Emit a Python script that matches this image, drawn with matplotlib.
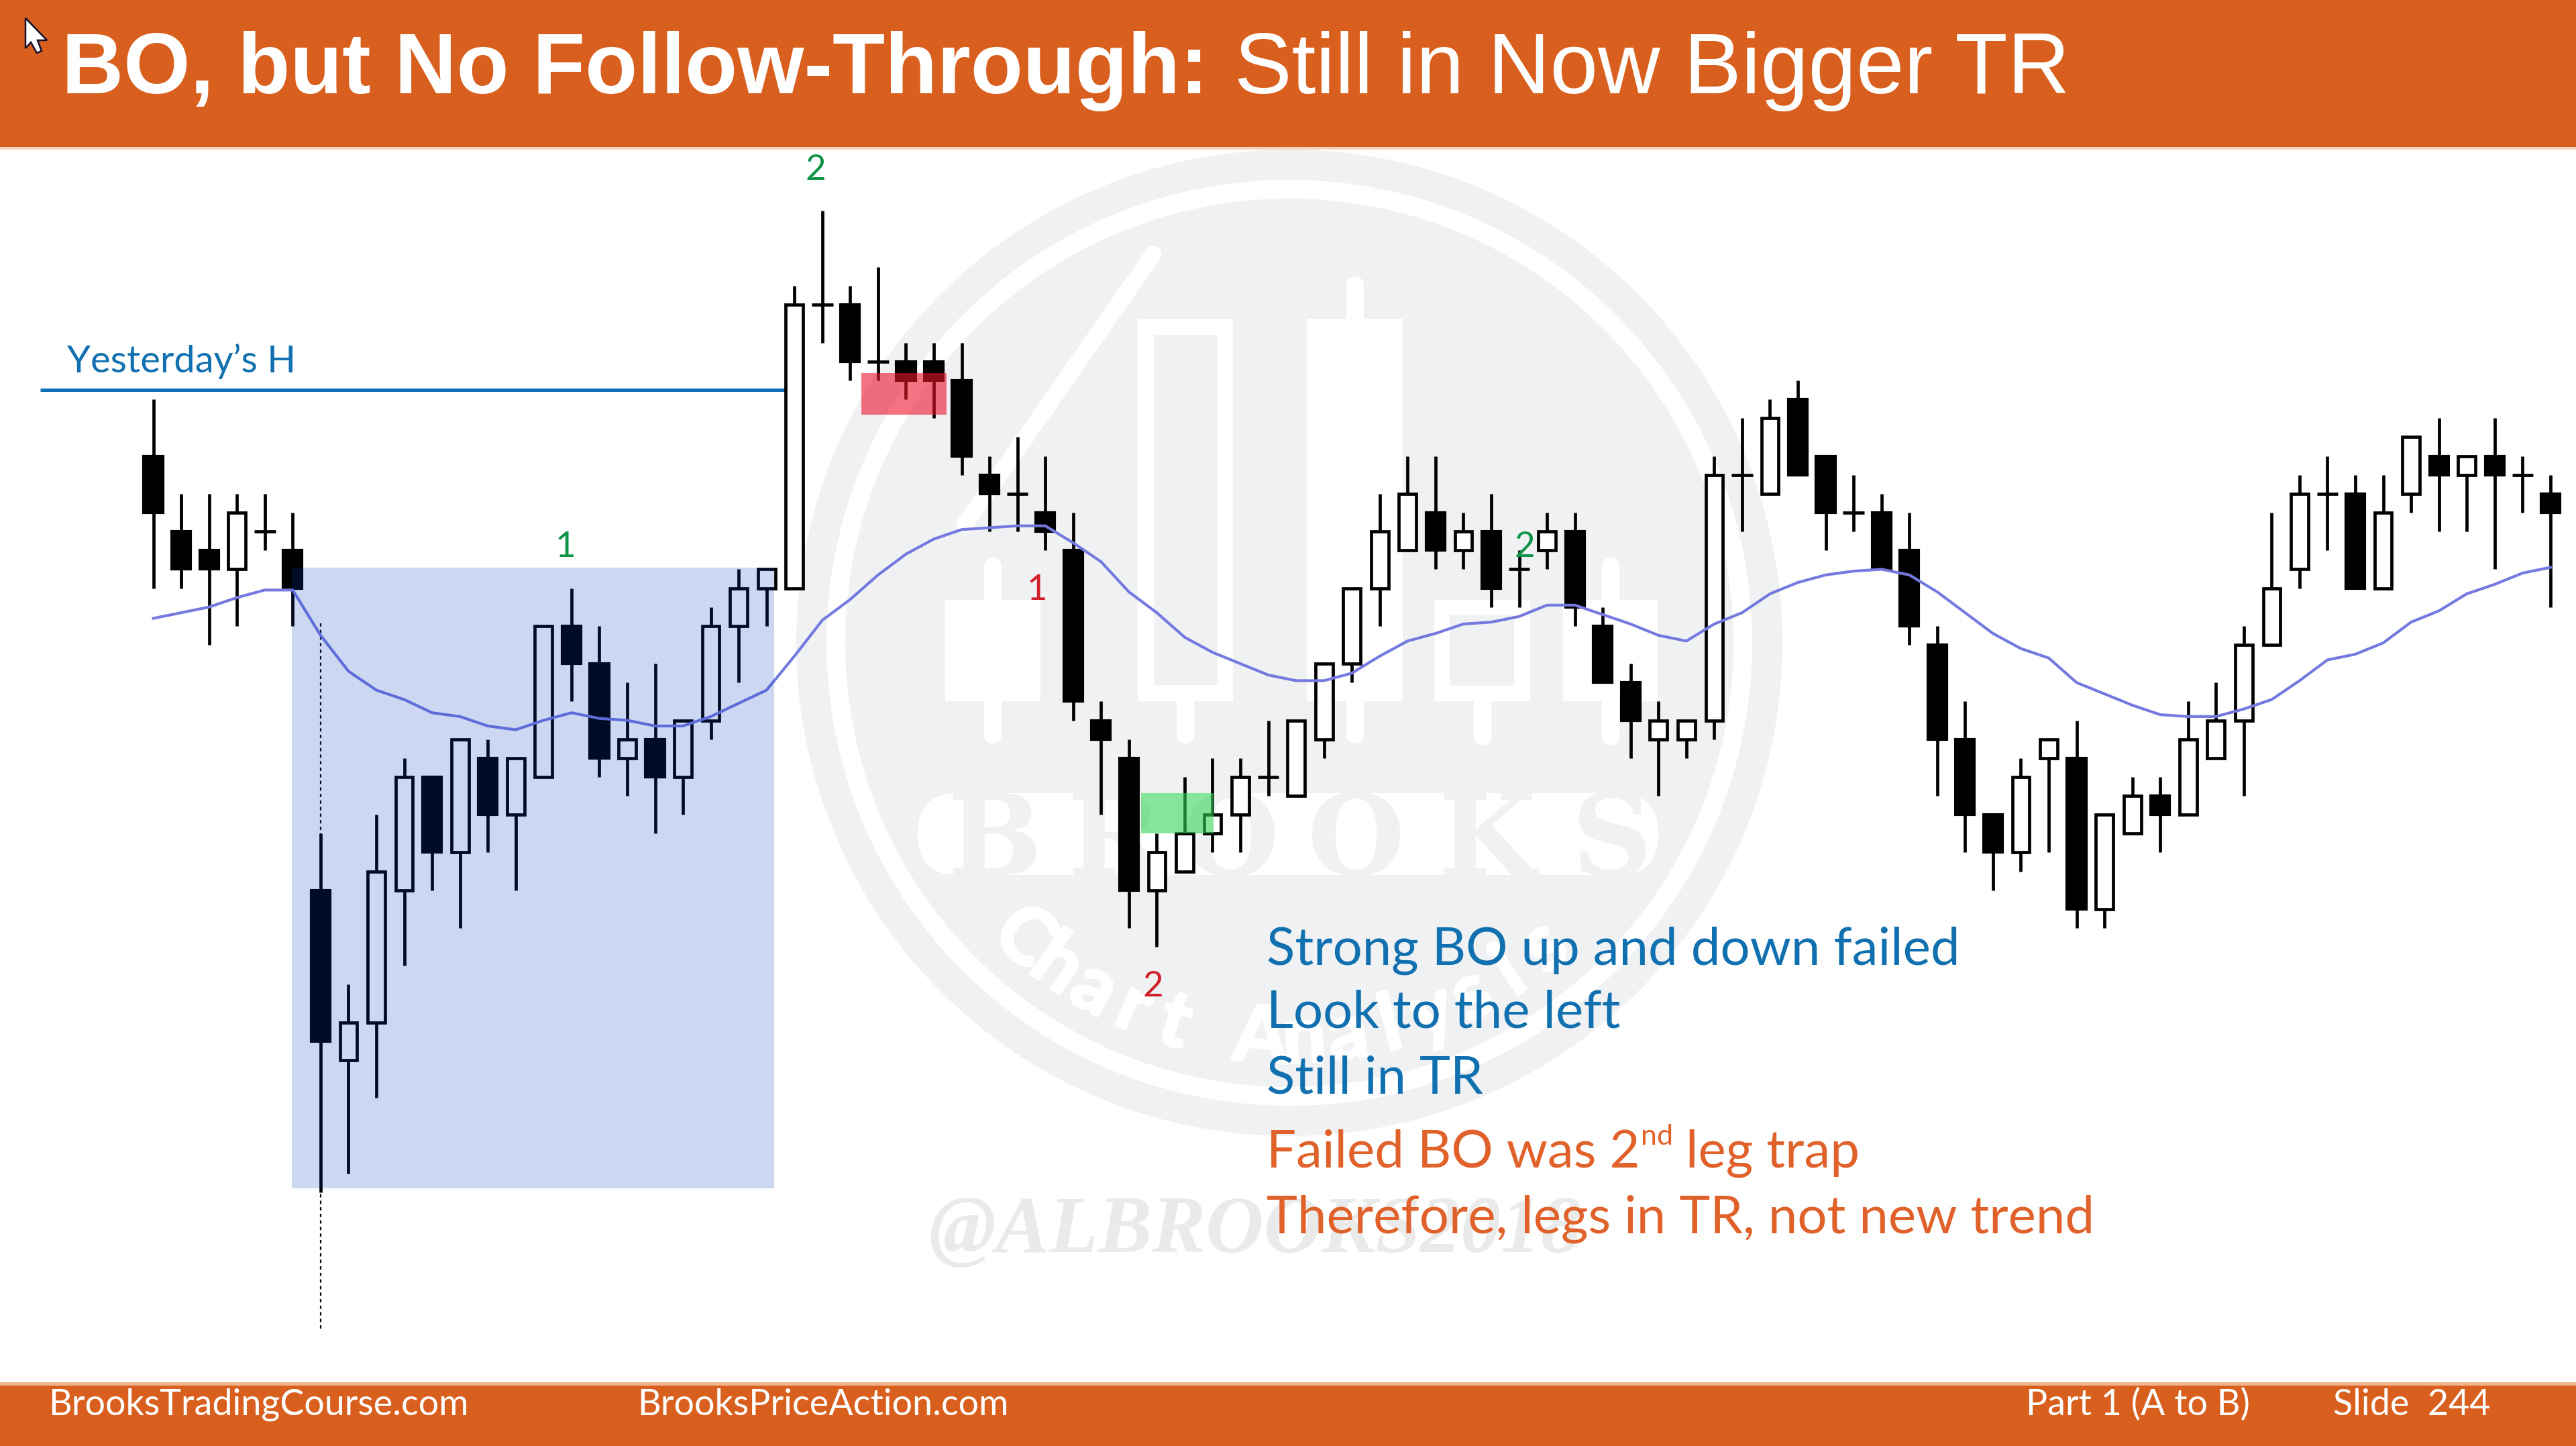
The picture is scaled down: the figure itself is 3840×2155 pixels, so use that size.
import numpy as np
import matplotlib
matplotlib.use("Agg")
from matplotlib import pyplot as plt
from matplotlib import patheffects as pe
from matplotlib.patches import Rectangle, Circle, Polygon, FancyBboxPatch

# OHLC, in ticks above the low of the day
opens = [39, 35, 34, 33, 35, 34, 16, 7, 9, 16, 22, 18, 23, 20, 22, 30, 28, 23, 24, 22, 25, 30, 32,
         32, 47, 47, 44, 44, 44, 43, 38, 37, 36, 34, 25, 23, 16, 17, 19, 20, 22, 21, 24, 28, 32,
         34, 36, 34, 35, 33, 34, 35, 30, 27, 24, 24, 25, 38, 37, 42, 39, 36, 36, 34, 29, 24, 20,
         18, 23, 23, 15, 19, 21, 20, 23, 25, 29, 33, 37, 37, 32, 37, 39, 38, 39, 38, 37]
highs = [42, 37, 37, 37, 37, 36, 19, 11, 20, 23, 22, 24, 24, 23, 30, 32, 30, 27, 28, 25, 31, 33, 33,
         48, 52, 48, 49, 45, 45, 45, 39, 40, 39, 36, 26, 24, 19, 22, 23, 23, 25, 25, 28, 32, 37,
         39, 39, 36, 37, 34, 36, 36, 31, 28, 26, 25, 39, 41, 42, 43, 39, 38, 37, 36, 30, 26, 20,
         23, 24, 25, 20, 22, 22, 26, 27, 30, 36, 38, 39, 38, 38, 40, 41, 39, 41, 39, 38]
lows = [32, 32, 29, 30, 34, 30, 0, 1, 5, 12, 16, 14, 18, 16, 22, 26, 22, 21, 19, 20, 24, 27, 30,
        32, 45, 43, 43, 42, 41, 38, 35, 35, 34, 25, 20, 14, 13, 17, 18, 18, 21, 21, 23, 27, 30,
        34, 33, 33, 31, 31, 33, 30, 27, 23, 21, 23, 24, 35, 37, 38, 34, 35, 33, 29, 21, 18, 16,
        17, 18, 14, 14, 19, 18, 20, 23, 21, 29, 32, 34, 32, 32, 36, 35, 35, 33, 36, 31]
closes = [36, 33, 33, 36, 35, 32, 8, 9, 17, 22, 18, 24, 20, 23, 30, 28, 23, 24, 22, 25, 30, 32, 33,
          47, 47, 44, 44, 43, 43, 39, 37, 37, 35, 26, 24, 16, 18, 19, 20, 22, 22, 25, 28, 32, 35,
          37, 34, 35, 32, 33, 35, 31, 27, 25, 25, 25, 38, 38, 41, 38, 36, 36, 33, 30, 24, 20, 18,
          22, 24, 15, 20, 21, 20, 24, 25, 29, 32, 37, 37, 32, 36, 40, 38, 39, 38, 38, 36]
ema = [30.4, 30.7, 31.0, 31.5, 31.9, 31.9, 29.5, 27.6, 26.6, 26.1, 25.4, 25.2, 24.7, 24.5, 25.0,
       25.4, 25.1, 25.0, 24.7, 24.7, 25.2, 25.9, 26.6, 28.4, 30.3, 31.4, 32.7, 33.8, 34.6, 35.1,
       35.2, 35.3, 35.3, 34.4, 33.4, 31.8, 30.7, 29.4, 28.6, 28.0, 27.4, 27.1, 27.1, 27.5, 28.4,
       29.2, 29.6, 30.1, 30.2, 30.5, 31.1, 31.1, 30.6, 30.1, 29.5, 29.2, 30.1, 30.7, 31.7, 32.3,
       32.7, 32.9, 33.0, 32.7, 31.8, 30.7, 29.6, 28.8, 28.3, 27.0, 26.4, 25.8, 25.3, 25.2, 25.2,
       25.6, 26.1, 27.1, 28.2, 28.5, 29.1, 30.2, 30.8, 31.7, 32.2, 32.8, 33.1]
yesterday_high = 42.5

title_bold = "BO, but No Follow-Through:"
title_rest = "Still in Now Bigger TR"
notes_blue = ["Strong BO up and down failed", "Look to the left", "Still in TR"]
footer = ["BrooksTradingCourse.com", "BrooksPriceAction.com", "Part 1 (A to B)", "Slide  244"]

ORANGE = "#D95F1E"
BLUE_TEXT = "#1170B0"
ORANGE_TEXT = "#E0622A"
GREEN = "#0E9347"
RED = "#D0202A"
WM = "#F0F1F3"

W, H = 3840, 2155
fig = plt.figure(figsize=(W / 200, H / 200), dpi=200, facecolor="white")

# background layer in slide pixels
bg = fig.add_axes([0, 0, 1, 1])
bg.set_xlim(0, W)
bg.set_ylim(H, 0)
bg.axis("off")

# watermark disc
cx, cy = 1922, 958
bg.add_patch(Circle((cx, cy), 735, fc=WM, ec="none"))
bg.add_patch(Circle((cx, cy), 690, fc="white", ec="none"))
bg.add_patch(Circle((cx, cy), 662, fc=WM, ec="none"))

# watermark candles
for left, right, wt, wb in [(1409, 1551, 830, 1109), (1696, 1838, 475, 1109),
                            (1948, 2091, 411, 1109), (2138, 2281, 894, 1112),
                            (2330, 2471, 830, 1112)]:
    mid = (left + right) / 2
    bg.plot([mid, mid], [wt + 14, wb - 14], color="white", lw=9.5, solid_capstyle="round", zorder=1.5)
for left, right, top, bot in [(1409, 1551, 894, 1045), (1696, 1838, 475, 1045),
                              (1948, 2091, 475, 1045), (2138, 2281, 894, 1045),
                              (2330, 2471, 894, 1045)]:
    bg.add_patch(Rectangle((left, top), right - left, bot - top, fc="white", ec="none", zorder=2))
for left, right, top, bot in [(1720, 1815, 499, 1021), (2161, 2257, 917, 1022)]:
    bg.add_patch(Rectangle((left, top), right - left, bot - top, fc=WM, ec="none", zorder=3))
bg.plot([1719, 1438], [379, 782], color="white", lw=9, solid_capstyle="round", zorder=2)

# watermark lettering, grey letters knocked out of a white pill
bg.add_patch(FancyBboxPatch((1368, 1182), 1104, 122, boxstyle="round,pad=0,rounding_size=60",
                            fc="white", ec="none", zorder=3))
for ch, x in zip("BROOKS", [1483, 1660, 1835, 2022, 2217, 2403]):
    bg.text(x, 1304, ch, color=WM, family="DejaVu Serif", weight="bold", fontsize=60,
            ha="center", va="baseline", zorder=4, clip_on=True)
for ch, ang in zip("Chart Analysis", np.linspace(42, -40, 14)):
    rad = np.radians(ang)
    t = bg.text(cx - 592 * np.sin(rad), cy + 592 * np.cos(rad), ch, color="white", family="Lato",
                weight="bold", fontsize=42, rotation=-ang, rotation_mode="anchor",
                ha="center", va="center", zorder=4)
    t.set_path_effects([pe.withStroke(linewidth=1.5, foreground="white")])
bg.text(1384, 1866, "@ALBROOKS2018", color="#EAEAEA", family="Liberation Serif", style="italic",
        weight="bold", fontsize=43.2, va="baseline", zorder=4)

# price chart, x = bar number, y = ticks, both through the axes scales
ax = fig.add_axes([0, 0, 1, 1], zorder=2)
ax.patch.set_alpha(0)
ax.set_xlim(-228.6 / 41.55, (W - 228.6) / 41.55)
ax.set_ylim((1777 - H) / 28.14, 1777 / 28.14)
ax.axis("off")

bars = np.arange(len(opens))
o, h_, l, c = map(np.array, (opens, highs, lows, closes))
ax.vlines(6, -7.2, 30.2, color="black", lw=0.8, linestyles=(0, (2.2, 2.2)), zorder=1)
ax.vlines(bars, l, h_, color="black", lw=1.7, zorder=2)

doji = o == c
down = o > c
up = o < c
ax.bar(bars[down], (o - c)[down], bottom=c[down], width=0.68, color="black",
       edgecolor="black", linewidth=1.5, zorder=3)
ax.bar(bars[up], (c - o)[up], bottom=o[up], width=0.62, color="white",
       edgecolor="black", linewidth=1.7, zorder=3)
ax.hlines(c[doji], bars[doji] - 0.38, bars[doji] + 0.38, color="black", lw=1.7, zorder=3)

ax.plot(bars, ema, color="#7479E0", lw=1.5, zorder=4)
ax.hlines(yesterday_high, -4.05, 22.8, color="#0F70B7", lw=1.8, zorder=1.5)

# tinted boxes sit on top of the bars
px = bg.transData
ax.add_patch(Rectangle((435, 846), 719, 925, fc="#003CBE", ec="none", alpha=0.2, transform=px, zorder=5))
ax.add_patch(Rectangle((1284, 556), 127, 62, fc="#EE142D", ec="none", alpha=0.6, transform=px, zorder=5))
ax.add_patch(Rectangle((1701, 1182), 108, 60, fc="#35D457", ec="none", alpha=0.6, transform=px, zorder=5))

# labels
lab = dict(family="Lato", fontsize=19, va="baseline", ha="center", transform=px, zorder=6)
ax.text(843, 830, "1", color=GREEN, **lab)
ax.text(1216, 268, "2", color=GREEN, **lab)
ax.text(2273, 830, "2", color=GREEN, **lab)
ax.text(1546, 894, "1", color=RED, **lab)
ax.text(1719, 1485, "2", color=RED, **lab)
ax.text(100, 555, "Yesterday\u2019s H", color=BLUE_TEXT, family="Lato", fontsize=20.2,
        va="baseline", transform=px, zorder=6)

note = dict(family="Lato", fontsize=28.1, va="baseline", transform=px, zorder=6)
for line, base in zip(notes_blue, [1438, 1532, 1629]):
    ax.text(1888, base, line, color=BLUE_TEXT, **note)
ax.text(1888, 1740, "Failed BO was 2", color=ORANGE_TEXT, **note)
ax.text(2446, 1706, "nd", color=ORANGE_TEXT, family="Lato", fontsize=15.5, va="baseline",
        transform=px, zorder=6)
ax.text(2513, 1740, "leg trap", color=ORANGE_TEXT, **note)
ax.text(1888, 1838, "Therefore, legs in TR, not new trend", color=ORANGE_TEXT, **note)

# header and footer bands
ax.add_patch(Rectangle((0, 0), W, 219, fc=ORANGE, ec="none", transform=px, zorder=7))
ax.add_patch(Rectangle((0, 219), W, 4, fc="#F6D5BE", ec="none", transform=px, zorder=7))
ax.add_patch(Rectangle((0, 2060), W, 95, fc=ORANGE, ec="none", transform=px, zorder=7))
ax.add_patch(Rectangle((0, 2060), W, 5, fc="#F0B48C", ec="none", transform=px, zorder=7))

ax.text(92, 139, title_bold, color="white", family="Liberation Sans", weight="bold", fontsize=46.0,
        va="baseline", transform=px, zorder=8)
ax.text(1840, 139, title_rest, color="white", family="Liberation Sans", fontsize=46.2,
        va="baseline", transform=px, zorder=8)
for txt, x in zip(footer, [72, 950, 3020, 3478]):
    ax.text(x, 2109, txt, color="white", family="Lato", fontsize=19.4, va="baseline",
            transform=px, zorder=8)

# mouse pointer in the corner of the capture
ax.add_patch(Polygon([(38, 27), (38, 72), (46, 63), (55, 79), (62, 76), (56, 60), (70, 60)],
                     fc="white", ec="#101030", lw=0.9, transform=px, zorder=9))

fig.savefig("out.png", dpi=200)
